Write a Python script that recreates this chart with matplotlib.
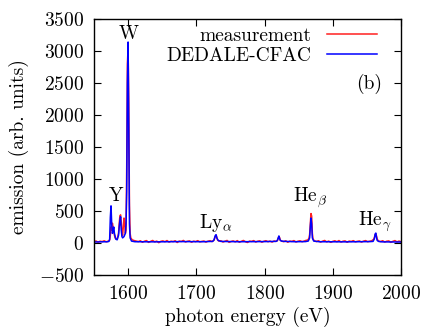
import matplotlib
matplotlib.use("Agg")
import matplotlib.pyplot as plt

plt.rcParams['font.family'] = 'cmr10'
plt.rcParams['mathtext.fontset'] = 'cm'
plt.rcParams['axes.formatter.use_mathtext'] = True
plt.rcParams['font.size'] = 14

# measurement (red)
meas_e = [1550,1553,1556,1559,1562,1565,1568,1571,1573,1574,1575,1576,1577,1578,1579,1580,1581,1582,1584,1586,
          1587,1588,1589,1590,1591,1592,1593,1594,1595,1596,1597,1598,1599,1600,1601,1602,1603,1604,
          1606,1609,1612,1615,1618,1621,1624,1627,1630,1633,1636,1639,1642,1645,1648,1651,1654,1657,1660,1663,
          1666,1669,1672,1675,1678,1681,1684,1687,1690,1693,1696,1699,1702,1705,1708,1711,1714,1717,1720,1723,
          1726,1727,1728,1729,1730,1731,1733,
          1736,1739,1742,1745,1748,1751,1754,1757,1760,1763,1766,1769,1772,1775,1778,1781,1784,1787,1790,1793,
          1796,1799,1802,1805,1808,1811,1814,1817,
          1819,1820,1821,1822,1823,1825,
          1828,1831,1834,1837,1840,1843,1846,1849,1852,1855,1858,1861,1863,1865,
          1866,1867,1868,1869,1870,1871,1873,
          1876,1879,1882,1885,1888,1891,1894,1897,1900,1903,1906,1909,1912,1915,1918,1921,1924,1927,1930,1933,
          1936,1939,1942,1945,1948,1951,1954,1957,
          1960,1961,1962,1963,1964,1965,1967,
          1970,1973,1976,1979,1982,1985,1988,1991,1994,1997,2000]
meas_v = [20,32,12,28,22,35,18,30,45,120,250,200,310,250,180,120,80,70,60,150,
          300,420,440,330,150,120,250,390,300,150,200,1200,2800,3050,2200,600,150,80,
          50,38,30,22,35,12,28,38,10,25,40,18,30,5,26,33,20,38,14,28,
          22,35,8,30,24,40,16,27,33,12,29,21,37,18,25,31,14,28,36,22,
          45,80,110,120,90,50,30,
          35,15,28,40,10,24,33,18,37,12,26,40,20,8,30,25,38,15,28,34,
          12,27,36,20,30,14,32,25,
          40,75,100,85,45,30,
          20,35,12,30,25,38,16,28,35,20,30,42,45,70,
          130,300,460,420,150,60,35,
          22,36,14,28,40,18,30,10,26,35,20,38,15,28,33,12,30,24,37,18,
          26,32,14,29,38,20,27,35,
          60,90,130,140,110,60,30,
          22,36,15,28,33,10,26,38,18,30,20]

# DEDALE-CFAC (blue)
calc_e = [1550,1560,1570,1572,1573,1574,1575,1576,1577,1578,1579,1580,1582,1584,1586,1587,1588,1589,1590,1591,
          1592,1594,1596,1597,1598,1599,1600,1601,1602,1603,1605,1610,1640,1680,1710,1724,1726,1727,1728,1729,
          1730,1732,1736,1760,1800,1816,1818,1819,1820,1821,1822,1823,1825,1830,1845,1860,1864,1866,1867,1868,
          1869,1870,1872,1880,1920,1955,1959,1961,1962,1963,1964,1965,1967,1972,2000]
calc_v = [15,18,20,25,60,400,580,300,150,200,250,150,60,50,120,250,350,410,200,100,
          80,100,150,300,800,2500,3140,1800,300,80,30,20,18,22,20,25,50,90,120,130,
          80,40,25,20,22,25,30,50,80,110,70,40,30,25,20,22,30,80,250,390,
          300,80,30,20,18,22,25,70,140,155,90,40,25,18,15]

fig = plt.figure(figsize=(4.35, 3.27), dpi=100)
ax = fig.add_axes([0.216, 0.159, 0.706, 0.783])

ax.plot(meas_e, meas_v, color='#ff2020', lw=1.1, label='measurement')
ax.plot(calc_e, calc_v, color='#0000ff', lw=1.1, label='DEDALE-CFAC')

ax.set_xlim(1550, 2000)
ax.set_ylim(-500, 3500)
ax.set_xticks([1600, 1700, 1800, 1900, 2000])
ax.set_yticks([-500, 0, 500, 1000, 1500, 2000, 2500, 3000, 3500])
ax.tick_params(direction='in', top=True, right=True, length=5, width=0.8, labelsize=14, pad=7)
for s in ax.spines.values():
    s.set_linewidth(1.0)

ax.set_xlabel('photon energy (eV)', labelpad=3)
ax.set_ylabel('emission (arb. units)', labelpad=7)

ax.text(1601, 3270, 'W', ha='center', va='center')
ax.text(1582, 740, 'Y', ha='center', va='center')
ax.text(1729, 320, r'Ly$_\alpha$', ha='center', va='center')
ax.text(1866, 700, r'He$_\beta$', ha='center', va='center')
ax.text(1961, 330, r'He$_\gamma$', ha='center', va='center')
ax.text(1953, 2480, '(b)', ha='center', va='center')

ax.legend(loc='upper right', bbox_to_anchor=(0.96, 1.015), frameon=False, markerfirst=False,
          handlelength=2.6, handletextpad=0.8, labelspacing=0.1, borderaxespad=0.2)

fig.savefig('out.png', dpi=100)
